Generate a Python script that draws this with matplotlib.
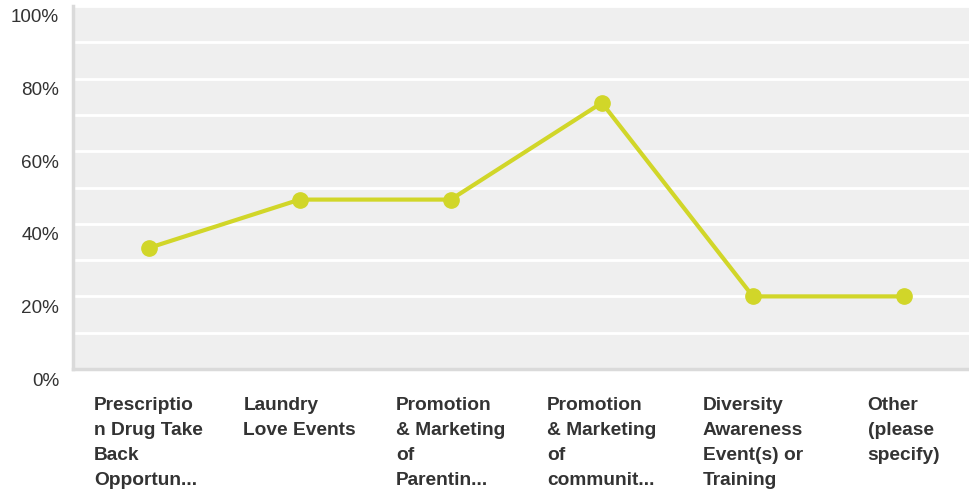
import matplotlib.pyplot as plt
from matplotlib.transforms import ScaledTranslation

# Données
categories = [
    "Prescriptio\nn Drug Take\nBack\nOpportun...",
    "Laundry\nLove Events",
    "Promotion\n& Marketing\nof\nParentin...",
    "Promotion\n& Marketing\nof\ncommunit...",
    "Diversity\nAwareness\nEvent(s) or\nTraining",
    "Other\n(please\nspecify)",
]
valeurs = [33.33, 46.67, 46.67, 73.33, 20.0, 20.0]
graduations = [0, 20, 40, 60, 80, 100]
etiquettes_y = ["0%", "20%", "40%", "60%", "80%", "100%"]

plt.rcParams["font.family"] = ["Liberation Sans", "DejaVu Sans"]

fig = plt.figure(figsize=(9.69, 4.93), dpi=100)
ax = fig.add_axes([73 / 969, (493 - 369) / 493, 896 / 969, 363 / 493])
ax.set_facecolor("#efefef")

x = list(range(len(categories)))
ax.plot(x, valeurs, color="#d1d629", linewidth=3, marker="o",
        markersize=11, zorder=3)

ax.set_xlim(-0.5, 5.43)
ax.set_ylim(0, 100)
ax.set_yticks(graduations)
ax.set_yticklabels(etiquettes_y, fontsize=13.6, color="#333333")
ax.set_yticks(range(10, 100, 10), minor=True)
ax.grid(True, which="both", axis="y", color="white", linewidth=2, zorder=1)
ax.tick_params(axis="y", which="both", length=0, pad=10)

ax.set_xticks(x)
ax.set_xticklabels(categories, fontsize=13.8, fontweight="bold",
                   color="#333333", multialignment="left", va="top",
                   linespacing=1.63)
ax.tick_params(axis="x", length=0, pad=20)

# les étiquettes de l'axe y sont décalées vers le bas
decalage = ScaledTranslation(0, -0.1, fig.dpi_scale_trans)
for lab in ax.get_yticklabels():
    lab.set_transform(lab.get_transform() + decalage)

for cote in ["top", "right"]:
    ax.spines[cote].set_visible(False)
for cote in ["left", "bottom"]:
    ax.spines[cote].set_color("#dadada")
    ax.spines[cote].set_linewidth(2.5)

plt.savefig("out.png", dpi=100)
plt.close()
